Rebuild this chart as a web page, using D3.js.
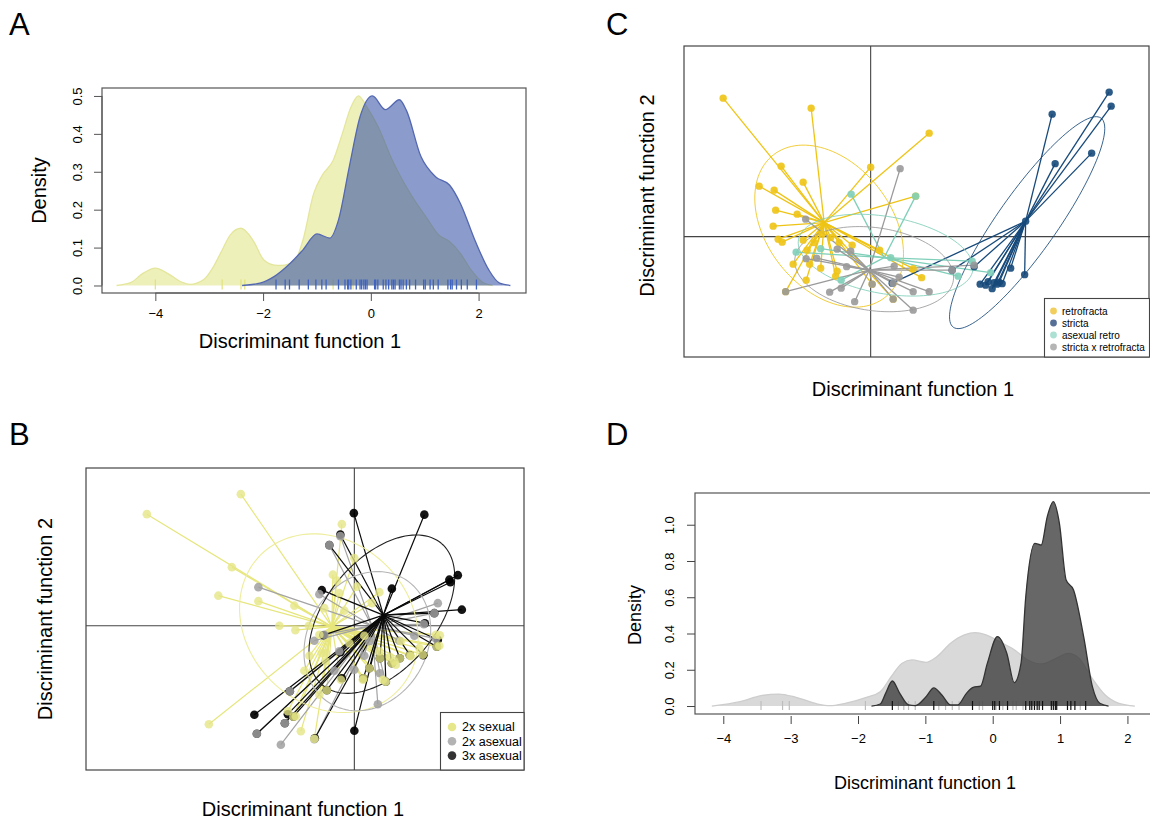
<!DOCTYPE html>
<html><head><meta charset="utf-8">
<script src="https://cdn.jsdelivr.net/npm/d3@7"></script>
<style>body{margin:0;background:#fff}svg{display:block}text{font-family:"Liberation Sans",Arial,Helvetica,sans-serif;fill:#000}</style>
</head><body><svg id="fig" width="1150" height="821"></svg>
<script>
// ================= DATA =================
// Panel A: density of discriminant function 1
const A_xTicks = [-4, -2, 0, 2];
const A_yTicks = [0, 0.1, 0.2, 0.3, 0.4, 0.5];
const A_yellow_x = [-4.72,-4.45,-4.25,-4.0,-3.75,-3.5,-3.36,-3.1,-2.92,-2.79,-2.6,-2.41,-2.19,-1.99,-1.79,-1.66,-1.40,-1.26,-1.06,-0.90,-0.70,-0.53,-0.37,-0.23,-0.07,0.13,0.40,0.73,1.06,1.26,1.46,1.66,1.86,2.06,2.26];
const A_yellow_y = [0,0.008,0.03,0.046,0.03,0.008,0.003,0.016,0.05,0.085,0.135,0.151,0.12,0.068,0.054,0.053,0.068,0.12,0.243,0.291,0.33,0.40,0.47,0.5,0.47,0.42,0.33,0.243,0.173,0.133,0.116,0.085,0.041,0.01,0];
const A_blue_x = [-2.39,-2.06,-1.79,-1.53,-1.26,-1.0,-0.76,-0.60,-0.40,-0.2,0.03,0.27,0.53,0.66,0.93,1.20,1.46,1.66,1.93,2.19,2.39,2.59];
const A_blue_y = [0,0.006,0.024,0.054,0.094,0.136,0.125,0.173,0.313,0.445,0.5,0.464,0.49,0.462,0.34,0.287,0.265,0.217,0.12,0.041,0.006,0];
const A_yellow_rug = [-4.0,-2.76,-2.41,-2.34,-0.70,-0.33];
const A_blue_rug = [-1.76,-1.59,-1.51,-1.33,-1.16,-1.02,-0.91,-0.83,-0.60,-0.48,-0.43,-0.41,-0.37,-0.27,-0.20,-0.17,-0.13,-0.10,-0.07,0.07,0.09,0.13,0.23,0.28,0.33,0.39,0.42,0.45,0.53,0.56,0.60,0.66,0.72,0.83,0.98,1.01,1.10,1.16,1.25,1.43,1.48,1.51,1.59,1.68,1.79,1.96];

// Panel B: discriminant scores (LD1, LD2)
const B_groups = ["2x sexual", "2x asexual", "3x asexual"];
const B_sex2 = [[-4.15,2.23],[-2.27,2.63],[-2.45,1.17],[-2.72,0.6],[-1.92,0.49],[-2.91,-1.97],[-1.5,0.0],[-1.18,-0.09],[-0.91,0.0],[-1.2,0.4],[-0.25,2.03],[-1.07,-2.11],[-1.17,-1.81],[-0.43,1.02],[0,1.35],[0.5,0.67],[1.7,-0.4],[1.63,-0.18],[1.37,-0.58],[1.13,-0.61],[0.83,-0.78],[0.8,-0.71],[0.17,-1.08],[-0.27,-1.08],[-0.7,-1.38],[-0.57,-0.55],[0.57,-1.08],[-0.3,0.65],[-0.7,-0.18],[0.93,-0.31],[0.5,-0.51],[1.3,-0.45],[-1.33,-1.71],[-0.8,-2.26],[-0.57,-0.71],
  [0.05,0.78],[0.75,-0.75],[0.91,-0.65],[1.11,-0.59],[1.65,-0.42],[1.71,-0.19],[0.51,-0.65],[0.71,-0.62],[-0.65,-0.55],[-0.55,-1.29],[0.3,-0.85],[-0.1,-0.35],[0.2,-0.2],[-0.2,0.3],[-0.6,0.35],[-0.35,0.9],[0.35,0.45],[-1.22,-1.82],[0.18,-1.05],[-0.9,-0.6],[-1.0,-0.9],[0.63,-1.12]];
const B_asex2 = [[-0.5,1.61],[-0.28,1.79],[-1.92,0.77],[-1.95,-2.16],[-1.47,-2.38],[-1.39,-1.95],[-1.29,-1.31],[-0.8,-2.27],[0.47,-1.57],[0.62,-1.11],[0,-0.88],[1.67,0.45],[1.6,0.25],[1.39,0.03],[1.63,-0.26],[-0.7,0.63],[-0.6,-0.18],[0.3,-0.31],[-0.3,-0.51],
  [0.51,-0.95],[0.9,-0.3],[1.2,-0.2],[0.2,-0.6],[-0.4,-0.9],[-0.8,-0.3]];
const B_asex3 = [[-0.01,2.25],[1.4,2.22],[-0.28,1.82],[1.9,0.92],[2.07,1.01],[1.92,0.87],[2.15,0.32],[0.75,0.74],[-0.65,0.71],[1.67,-0.28],[-2.0,-1.78],[-1.33,-1.77],[0.0,-2.1],[-0.28,-0.53],
  [0.75,-0.75],[0.91,-0.65],[1.38,-0.59],[0.51,-0.65],[0.63,-1.12],[-0.25,-1.05],[-1.22,-1.82],[-1.95,-2.16],[-1.39,-1.95],[-1.29,-1.31],[-0.79,-2.25],[-0.55,-1.29],[0.3,-0.85],[1.65,-0.42],[-0.62,-0.19],[1.11,-0.59],[0.18,-1.05],[-0.5,1.61],[1.6,0.25],[1.41,0.05]];
const B_centroid_x = [-0.45, 0.35, 0.58];
const B_centroid_y = [-0.02, 0.0, 0.21];
const B_ell_cx = [-0.51, 0.26, 0.55];
const B_ell_cy = [0.05, -0.31, 0.23];
const B_ell_a = [1.93, 1.45, 1.85];
const B_ell_b = [1.63, 1.2, 1.1];
const B_ell_angle = [-45, 60, 50];

// Panel C: discriminant scores (LD1, LD2)
const C_groups = ["retrofracta", "stricta", "asexual retro", "stricta x retrofracta"];
const C_retro = [[-2.95,2.77],[-1.19,2.57],[1.17,2.07],[-1.79,1.41],[0.0,1.39],[-1.35,1.09],[-2.23,1.01],[-1.93,0.93],[-1.90,0.53],[-1.47,0.45],[-1.95,0.21],[-1.85,-0.05],[-1.77,-0.11],[-1.35,-0.07],[-1.27,-0.27],[-1.55,-0.55],[-1.22,-0.55],[-1.0,-0.63],[-1.29,-0.87],[-0.70,-0.79],[-0.67,-0.69],[-0.37,-0.17],[0.18,-0.27],[0.85,-0.64],[1.02,-0.82],[-0.97,0.05],[-0.80,-0.02],[-0.63,-0.12],[-1.13,-0.12],[0.90,0.81],[-1.70,-1.10],[0.03,-0.95],[0.45,-1.25]];
const C_stricta = [[4.77,2.89],[4.81,2.61],[3.63,2.45],[4.42,1.67],[3.69,1.46],[3.10,0.31],[2.80,-0.63],[3.08,-0.76],[2.19,-0.95],[2.30,-0.97],[2.35,-0.90],[2.47,-0.92],[2.57,-0.91],[2.63,-0.94],[2.43,-1.04],[2.53,-0.95],[0.43,-0.93],[1.63,-0.67],[2.07,-0.60]];
const C_asex = [[-0.39,0.85],[0.90,0.81],[-1.49,-0.31],[-1.0,-0.24],[-0.59,-0.87],[1.75,-0.79],[2.03,-0.49],[2.40,-0.72],[0.40,-0.42]];
const C_hybrid = [[0.59,1.36],[-1.30,0.35],[-1.29,-0.44],[-1.08,-0.43],[-0.48,-0.60],[-1.70,-1.10],[-0.82,-1.11],[-0.59,-1.03],[-0.32,-1.30],[0.45,-1.25],[0.03,-0.95],[0.45,-0.93],[0.57,-0.81],[0.47,-0.59],[0.85,-1.10],[1.17,-1.10],[0.85,-1.47],[1.63,-0.67],[2.07,-0.57],[-0.40,-0.29],[-0.67,-0.25]];
const C_centroid_x = [-0.93, 3.10, 0.27, -0.03];
const C_centroid_y = [0.28, 0.31, -0.42, -0.67];
const C_ell_cx = [-0.83, 3.13, 0.30, 0.07];
const C_ell_cy = [0.21, 0.28, -0.37, -0.65];
const C_ell_a = [1.81, 2.56, 1.77, 1.6];
const C_ell_b = [1.25, 0.59, 0.77, 0.83];
const C_ell_angle = [-52, 54.8, -10, -8];

// Panel D: density of discriminant function 1
const D_xTicks = [-4, -3, -2, -1, 0, 1, 2];
const D_yTicks = [0, 0.2, 0.4, 0.6, 0.8, 1.0];
const D_light_x = [-4.17,-3.75,-3.44,-3.18,-2.92,-2.60,-2.42,-2.19,-1.875,-1.67,-1.51,-1.35,-1.20,-0.99,-0.83,-0.625,-0.42,-0.26,-0.10,0.10,0.31,0.52,0.73,0.94,1.12,1.28,1.46,1.67,1.875,2.11];
const D_light_y = [0,0.024,0.057,0.066,0.048,0.011,0.002,0.015,0.048,0.079,0.16,0.235,0.254,0.241,0.272,0.346,0.392,0.405,0.392,0.355,0.313,0.254,0.232,0.263,0.29,0.263,0.162,0.061,0.015,0];
const D_dark_x = [-1.80,-1.67,-1.59,-1.49,-1.38,-1.25,-1.15,-0.99,-0.875,-0.755,-0.625,-0.52,-0.39,-0.29,-0.18,-0.08,0.07,0.21,0.32,0.42,0.49,0.625,0.72,0.81,0.90,0.99,1.09,1.20,1.35,1.48,1.59,1.72];
const D_dark_y = [0,0.011,0.07,0.138,0.07,0.006,0.002,0.051,0.10,0.061,0.006,0.006,0.07,0.103,0.11,0.235,0.383,0.29,0.129,0.235,0.60,0.897,0.888,1.045,1.127,1.008,0.695,0.64,0.383,0.107,0.015,0];
const D_light_rug = [-3.44,-3.12,-3.02,-1.89,-1.40,-1.32,-1.25,-1.15,-0.80,-0.70,-0.60,-0.50,-0.20,-0.15,0.05,0.15,0.30,0.35,0.45,1.30];
const D_dark_rug = [-1.49,-0.875,-0.30,0.0,0.03,0.10,0.22,0.49,0.55,0.58,0.62,0.66,0.69,0.74,0.87,0.90,0.93,0.95,1.11,1.16,1.22,1.38];

// ================= DRAWING =================
const svg = d3.select("#fig");
const FONT = '"Liberation Sans",Arial,Helvetica,sans-serif';

function panelLabel(t, x, y) {
  svg.append("text").attr("x", x).attr("y", y).attr("font-size", 31).text(t);
}
function box(g, x0, y0, x1, y1, col) {
  g.append("rect").attr("x", x0).attr("y", y0).attr("width", x1 - x0).attr("height", y1 - y0)
    .attr("fill", "none").attr("stroke", col || "#444").attr("stroke-width", 1.2);
}

// ---------- Panel A ----------
(function () {
  const L = 102, R = 526, T = 88, Bt = 293;
  const x = d3.scaleLinear().domain([-4.99, 2.88]).range([L, R]);
  const y = d3.scaleLinear().domain([-0.0198, 0.521]).range([Bt, T]);
  const g = svg.append("g");
  const area = d3.area().x(d => x(d[0])).y0(y(0)).y1(d => y(d[1])).curve(d3.curveMonotoneX);
  const line = d3.line().x(d => x(d[0])).y(d => y(d[1])).curve(d3.curveMonotoneX);
  const yel = d3.zip(A_yellow_x, A_yellow_y), blu = d3.zip(A_blue_x, A_blue_y);
  g.append("path").datum(yel).attr("d", area).attr("fill", "rgb(222,226,118)").attr("fill-opacity", 0.5);
  g.append("path").datum(yel).attr("d", line).attr("fill", "none").attr("stroke", "#e4e69c").attr("stroke-width", 1.3);
  g.selectAll(".ry").data(A_yellow_rug).join("line").attr("x1", d => x(d)).attr("x2", d => x(d))
    .attr("y1", y(0) - 6).attr("y2", y(0) + 4).attr("stroke", "#e2e27a").attr("stroke-width", 1.2);
  g.append("path").datum(blu).attr("d", area).attr("fill", "rgb(42,72,163)").attr("fill-opacity", 0.55);
  g.append("path").datum(blu).attr("d", line).attr("fill", "none").attr("stroke", "#5468b2").attr("stroke-width", 1.3);
  g.selectAll(".rb").data(A_blue_rug).join("line").attr("x1", d => x(d)).attr("x2", d => x(d))
    .attr("y1", y(0) - 6).attr("y2", y(0) + 4).attr("stroke", "#3f62c0").attr("stroke-width", 1.3);
  box(g, L, T, R, Bt, "#555");
  const ax = g.append("g").attr("transform", `translate(0,${Bt})`)
    .call(d3.axisBottom(x).tickValues(A_xTicks).tickSize(8).tickPadding(8).tickFormat(d => d < 0 ? "\u2212" + Math.abs(d) : d));
  ax.select(".domain").attr("d", `M${x(-4)},0H${x(2)}`).attr("stroke", "#555");
  ax.selectAll("text").attr("font-size", 13).attr("font-family", FONT);
  ax.selectAll("line").attr("stroke", "#555");
  const ay = g.append("g").attr("transform", `translate(${L},0)`)
    .call(d3.axisLeft(y).tickValues(A_yTicks).tickSize(8).tickFormat(d3.format(".1f")));
  ay.select(".domain").attr("d", `M0,${y(0)}V${y(0.5)}`).attr("stroke", "#555");
  ay.selectAll("line").attr("stroke", "#555");
  ay.selectAll("text").attr("font-size", 13).attr("font-family", FONT).attr("text-anchor", "middle")
    .attr("x", 0).attr("dy", 0).attr("transform", "translate(-20,0) rotate(-90)");
  g.append("text").attr("transform", `translate(46,${(T + Bt) / 2}) rotate(-90)`).attr("text-anchor", "middle")
    .attr("font-size", 20).text("Density");
  g.append("text").attr("x", 300).attr("y", 348).attr("text-anchor", "middle").attr("font-size", 20).text("Discriminant function 1");
  panelLabel("A", 9, 35);
})();

// ---------- helpers for scatter panels ----------
function ellipsePts(cx, cy, a, b, angDeg) {
  const t = angDeg * Math.PI / 180, pts = [];
  for (let i = 0; i <= 120; i++) {
    const th = i / 120 * 2 * Math.PI;
    const ex = a * Math.cos(th), ey = b * Math.sin(th);
    pts.push([cx + ex * Math.cos(t) - ey * Math.sin(t), cy + ex * Math.sin(t) + ey * Math.cos(t)]);
  }
  return pts;
}

// ---------- Panel B ----------
(function () {
  const L = 86, R = 524, T = 468, Bt = 770;
  const x = d3.scaleLinear().domain([-5.367, 3.387]).range([L, 523.7]);
  const y = d3.scaleLinear().domain([-2.88, 3.153]).range([769.7, T]);
  const g = svg.append("g");
  g.append("line").attr("x1", x(0)).attr("x2", x(0)).attr("y1", T).attr("y2", Bt).attr("stroke", "#444").attr("stroke-width", 1.1);
  g.append("line").attr("x1", L).attr("x2", R).attr("y1", y(0)).attr("y2", y(0)).attr("stroke", "#444").attr("stroke-width", 1.1);
  const data = [B_sex2, B_asex2, B_asex3];
  const lineCol = ["#e6e67c", "#a3a3a3", "#0a0a0a"];
  const ptCol = ["#e6e685", "#a0a0a0", "#000000"];
  const ptOp = [0.78, 0.85, 0.92];
  const ellCol = ["#eded9c", "#b4b4b4", "#222"];
  const ln = d3.line().x(d => x(d[0])).y(d => y(d[1]));
  data.forEach((pts, gi) => {
    const cx = B_centroid_x[gi], cy = B_centroid_y[gi];
    g.append("g").selectAll("line").data(pts).join("line")
      .attr("x1", d => x(d[0])).attr("y1", d => y(d[1])).attr("x2", x(cx)).attr("y2", y(cy))
      .attr("stroke", lineCol[gi]).attr("stroke-width", 1.2);
  });
  data.forEach((pts, gi) => {
    g.append("path").datum(ellipsePts(B_ell_cx[gi], B_ell_cy[gi], B_ell_a[gi], B_ell_b[gi], B_ell_angle[gi]))
      .attr("d", ln).attr("fill", "none").attr("stroke", ellCol[gi]).attr("stroke-width", 1.1);
  });
  [2, 1, 0].forEach(gi => {
    g.append("g").selectAll("circle").data(data[gi]).join("circle")
      .attr("cx", d => x(d[0])).attr("cy", d => y(d[1])).attr("r", 4.3)
      .attr("fill", ptCol[gi]).attr("fill-opacity", ptOp[gi]);
  });
  box(g, L, T, R, Bt, "#444");
  // legend
  const lg = g.append("g");
  lg.append("rect").attr("x", 440.5).attr("y", 712.5).attr("width", 83.5).attr("height", 57.5)
    .attr("fill", "#fff").attr("stroke", "#444").attr("stroke-width", 1.1);
  const legCol = ["#e6e68a", "#b3b3b3", "#333333"];
  B_groups.forEach((name, i) => {
    lg.append("circle").attr("cx", 452).attr("cy", 727 + i * 14.3).attr("r", 4.3).attr("fill", legCol[i]);
    lg.append("text").attr("x", 462).attr("y", 731.3 + i * 14.3).attr("font-size", 12.5).text(name);
  });
  g.append("text").attr("transform", `translate(52,${(T + Bt) / 2}) rotate(-90)`).attr("text-anchor", "middle")
    .attr("font-size", 20).text("Discriminant function 2");
  g.append("text").attr("x", 303).attr("y", 816).attr("text-anchor", "middle").attr("font-size", 20).text("Discriminant function 1");
  panelLabel("B", 9, 445);
})();

// ---------- Panel C ----------
(function () {
  const L = 684, R = 1150, T = 46, Bt = 357;
  const x = d3.scaleLinear().domain([-3.733, 5.587]).range([L, R]);
  const y = d3.scaleLinear().domain([-2.407, 3.813]).range([Bt, T]);
  const g = svg.append("g");
  g.append("line").attr("x1", x(0)).attr("x2", x(0)).attr("y1", T).attr("y2", Bt).attr("stroke", "#444").attr("stroke-width", 1.1);
  g.append("line").attr("x1", L).attr("x2", R).attr("y1", y(0)).attr("y2", y(0)).attr("stroke", "#444").attr("stroke-width", 1.1);
  const data = [C_retro, C_stricta, C_asex, C_hybrid];
  const col = ["#eec416", "#16497a", "#7fcfb9", "#9a9a9a"];
  const ln = d3.line().x(d => x(d[0])).y(d => y(d[1]));
  data.forEach((pts, gi) => {
    const cx = C_centroid_x[gi], cy = C_centroid_y[gi];
    g.append("g").selectAll("line").data(pts).join("line")
      .attr("x1", d => x(d[0])).attr("y1", d => y(d[1])).attr("x2", x(cx)).attr("y2", y(cy))
      .attr("stroke", col[gi]).attr("stroke-width", 1.3);
  });
  data.forEach((pts, gi) => {
    g.append("path").datum(ellipsePts(C_ell_cx[gi], C_ell_cy[gi], C_ell_a[gi], C_ell_b[gi], C_ell_angle[gi]))
      .attr("d", ln).attr("fill", "none").attr("stroke", col[gi]).attr("stroke-opacity", 0.85).attr("stroke-width", 1.0);
  });
  data.forEach((pts, gi) => {
    g.append("g").selectAll("circle").data(pts).join("circle")
      .attr("cx", d => x(d[0])).attr("cy", d => y(d[1])).attr("r", 3.7)
      .attr("fill", col[gi]).attr("fill-opacity", 0.9);
  });
  box(g, L, T, R - 1, Bt, "#444");
  const lg = g.append("g");
  lg.append("rect").attr("x", 1044.5).attr("y", 298.5).attr("width", 105).attr("height", 58.5)
    .attr("fill", "#fff").attr("stroke", "#444").attr("stroke-width", 1.1);
  const legCol = ["#f2cf5c", "#566f96", "#ace0d2", "#b5b5b5"];
  C_groups.forEach((name, i) => {
    lg.append("circle").attr("cx", 1053.5).attr("cy", 311 + i * 12).attr("r", 3.4).attr("fill", legCol[i]);
    lg.append("text").attr("x", 1062).attr("y", 314.5 + i * 12).attr("font-size", 10).text(name);
  });
  g.append("text").attr("transform", `translate(654,${(T + Bt) / 2 - 6}) rotate(-90)`).attr("text-anchor", "middle")
    .attr("font-size", 20).text("Discriminant function 2");
  g.append("text").attr("x", 913).attr("y", 396).attr("text-anchor", "middle").attr("font-size", 20).text("Discriminant function 1");
  panelLabel("C", 606, 35);
})();

// ---------- Panel D ----------
(function () {
  const L = 695, R = 1151, T = 493, Bt = 714;
  const x = d3.scaleLinear().domain([-4.42, 2.35]).range([L, R]);
  const y = d3.scaleLinear().domain([-0.044, 1.175]).range([Bt, T]);
  const g = svg.append("g");
  const area = d3.area().x(d => x(d[0])).y0(y(0)).y1(d => y(d[1])).curve(d3.curveMonotoneX);
  const line = d3.line().x(d => x(d[0])).y(d => y(d[1])).curve(d3.curveMonotoneX);
  const lt = d3.zip(D_light_x, D_light_y), dk = d3.zip(D_dark_x, D_dark_y);
  g.append("path").datum(lt).attr("d", area).attr("fill", "rgb(190,190,190)").attr("fill-opacity", 0.58);
  g.append("path").datum(lt).attr("d", line).attr("fill", "none").attr("stroke", "#cdcdcd").attr("stroke-width", 1.3);
  g.selectAll(".rl").data(D_light_rug).join("line").attr("x1", d => x(d)).attr("x2", d => x(d))
    .attr("y1", y(0) - 5).attr("y2", y(0) + 4).attr("stroke", "#bdbdbd").attr("stroke-width", 1.2);
  g.append("path").datum(dk).attr("d", area).attr("fill", "rgb(55,55,55)").attr("fill-opacity", 0.76);
  g.append("path").datum(dk).attr("d", line).attr("fill", "none").attr("stroke", "#333").attr("stroke-width", 1.3);
  g.selectAll(".rd").data(D_dark_rug).join("line").attr("x1", d => x(d)).attr("x2", d => x(d))
    .attr("y1", y(0) - 5).attr("y2", y(0) + 4).attr("stroke", "#111").attr("stroke-width", 1.2);
  box(g, L, T, R, Bt, "#555");
  const ax = g.append("g").attr("transform", `translate(0,${Bt + 2})`)
    .call(d3.axisBottom(x).tickValues(D_xTicks).tickSize(8).tickPadding(10).tickFormat(d => d < 0 ? "\u2212" + Math.abs(d) : d));
  ax.select(".domain").remove();
  ax.selectAll("text").attr("font-size", 13).attr("font-family", FONT);
  ax.selectAll("line").attr("stroke", "#444");
  const ay = g.append("g").attr("transform", `translate(${L},0)`)
    .call(d3.axisLeft(y).tickValues(D_yTicks).tickSize(8).tickFormat(d3.format(".1f")));
  ay.select(".domain").remove();
  ay.selectAll("line").attr("stroke", "#444");
  ay.selectAll("text").attr("font-size", 13).attr("font-family", FONT).attr("text-anchor", "middle")
    .attr("x", 0).attr("dy", 0).attr("transform", "translate(-21,0) rotate(-90)");
  g.append("text").attr("transform", `translate(641,${615}) rotate(-90)`).attr("text-anchor", "middle")
    .attr("font-size", 18).text("Density");
  g.append("text").attr("x", 925).attr("y", 789).attr("text-anchor", "middle").attr("font-size", 18).text("Discriminant function 1");
  panelLabel("D", 606, 445);
})();
</script></body></html>
